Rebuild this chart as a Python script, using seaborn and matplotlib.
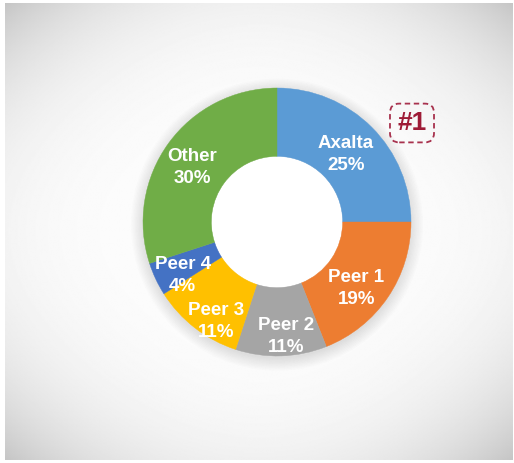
import numpy as np
import matplotlib
matplotlib.use("Agg")
import matplotlib.pyplot as plt
import seaborn as sns
from matplotlib.patches import Circle

# ---- data ----
categories = ["Axalta", "Peer 1", "Peer 2", "Peer 3", "Peer 4", "Other"]
shares = [25, 19, 11, 11, 4, 30]
pct_labels = ["25%", "19%", "11%", "11%", "4%", "30%"]
colors = ["#5B9BD5", "#ED7D31", "#A5A5A5", "#FFC000", "#4472C4", "#70AD47"]
rank_label = "#1"

# label placement (radius as fraction of outer radius, clockwise angle nudge in degrees)
label_radius = [0.72, 0.77, 0.86, 0.87, 0.81, 0.75]
label_dtheta = [0.4, 5.7, -2.7, -6.4, -4.4, -3.1]

sns.set_theme(style="white")
plt.rcParams['font.family'] = ['Liberation Sans', 'DejaVu Sans']

W, H = 514, 463
fig = plt.figure(figsize=(W / 100, H / 100), dpi=100)
fig.patch.set_facecolor('white')

# background panel with soft radial gradient
bg = fig.add_axes([5 / W, 3 / H, 508 / W, 457 / H])
yy, xx = np.mgrid[-1:1:400j, -1:1:400j]
v = 0.99 - 0.035 * xx**4 - 0.05 * yy**4 - 0.13 * xx**2 * yy**2
bg.imshow(v, cmap='gray', vmin=0, vmax=1, extent=(-1, 1, -1, 1),
          aspect='auto', interpolation='bilinear')
bg.set_xlim(-1, 1)
bg.set_ylim(-1, 1)
bg.axis('off')

# donut axes: centre at (277, 222) px, outer radius 134 px
cx, cy, R = 277, 222, 134
half = 1.2 * R
ax = fig.add_axes([(cx - half) / W, (H - cy - half) / H, 2 * half / W, 2 * half / H])
ax.set_facecolor('none')

# soft shadow
for r in np.linspace(1.0, 1.09, 10):
    ax.add_patch(Circle((0, -0.02), r, color='black', alpha=0.011, lw=0, zorder=0))

wedges, _ = ax.pie(shares, colors=colors, startangle=90, counterclock=False,
                   radius=1.0, wedgeprops=dict(width=0.51, linewidth=0.3))
for w in wedges:
    w.set_zorder(2)
    w.set_edgecolor(w.get_facecolor())
ax.add_patch(Circle((0, 0), 0.49, color='white', lw=0, zorder=1.5))

for w, cat, pct, rr, dt in zip(wedges, categories, pct_labels, label_radius, label_dtheta):
    mid = np.deg2rad((w.theta1 + w.theta2) / 2 - dt)
    ax.text(rr * np.cos(mid), rr * np.sin(mid), f"{cat}\n{pct}",
            ha='center', va='center', color='white', fontsize=13.5,
            fontweight='bold', linespacing=1.4, zorder=3)

ax.text((412 - cx) / R, (cy - 123) / R, rank_label, ha='center', va='center',
        color='#9E1B36', fontsize=19, fontweight='bold', zorder=3,
        bbox=dict(boxstyle='round,pad=0.28,rounding_size=0.35', fc='none',
                  ec='#A8324E', ls=(0, (3, 2)), lw=1.3))

ax.set_xlim(-1.2, 1.2)
ax.set_ylim(-1.2, 1.2)
ax.set_aspect('equal')
ax.axis('off')

fig.savefig('out.png', dpi=100)
